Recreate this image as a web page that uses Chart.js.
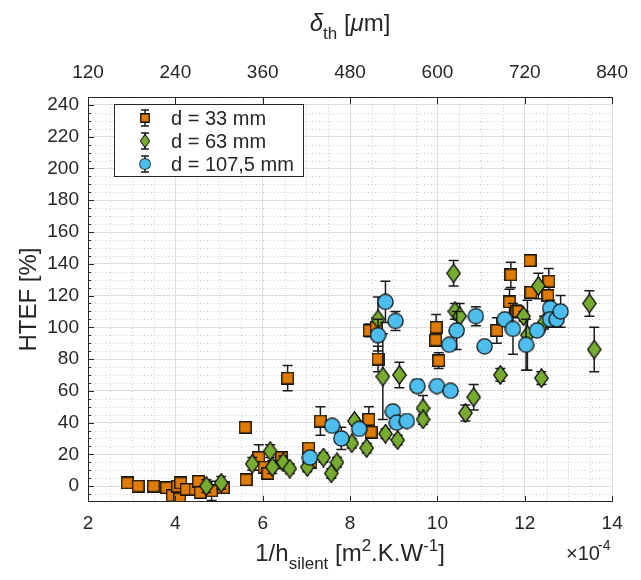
<!DOCTYPE html>
<html>
<head>
<meta charset="utf-8">
<script src="https://cdn.jsdelivr.net/npm/chart.js@4.4.1/dist/chart.umd.min.js"></script>
<style>
  html, body { margin: 0; background: #fff; }
</style>
</head>
<body>
<canvas id="myChart" width="641" height="580"></canvas>
<script>
// d = 33 mm
const x33 = [2.9, 3.15, 3.5, 3.8, 3.93, 4.1, 4.05, 4.12, 4.25, 4.45, 4.53, 4.57, 4.83, 5.1,
  5.6, 5.62, 5.91, 6.03, 6.12, 6.43, 6.57, 7.05, 7.1, 7.32, 8.43, 8.48, 8.44, 8.6, 8.64,
  9.97, 9.96, 10.03, 11.36, 11.65, 11.68, 11.82, 12.12, 12.14, 12.53, 12.55, 12.58];
const y33 = [2, 0, 0, -1, -6, -8, 0, 2, -2, -2, 3, -4, -3, -1,
  37, 4, 18, 12, 8, 18, 68, 24, 15, 41, 42, 34, 98, 100, 80,
  100, 92, 79, 98, 116, 133, 110, 142, 122, 120, 129, 108];
const e33 = [1, 1, 1, 1, 2, 2, 1, 1, 1, 1, 1, 2, 6, 1,
  1, 1, 8, 2, 1, 2, 8, 3, 2, 9, 8, 2, 4, 6, 8,
  8, 3, 5, 8, 8, 8, 4, 2, 3, 3, 8, 2];

// d = 63 mm
const x63 = [4.71, 5.05, 5.76, 6.17, 6.22, 6.47, 6.62, 7.02, 7.39, 7.57, 7.7, 8.1, 8.04, 8.38,
  8.64, 8.75, 8.81, 9.09, 9.13, 9.67, 9.67, 10.37, 10.4, 10.51, 10.64, 10.83, 11.44,
  11.97, 12.06, 12.31, 12.38, 12.44, 13.48, 13.59];
const y63 = [0, 2, 14, 22, 12, 15, 11, 12, 18, 8, 15, 41, 27, 24,
  105, 69, 33, 29, 70, 49, 42, 134, 110, 107, 46, 56, 70,
  107, 95, 126, 68, 103, 115, 86];
const e63 = [4, 4, 4, 4, 4, 4, 3, 3, 3, 3, 3, 2, 3, 3,
  14, 27, 3, 3, 8, 8, 3, 8, 5, 8, 5, 8, 4,
  3, 22, 8, 4, 4, 8, 14];

// d = 107,5 mm
const x107 = [7.08, 7.59, 7.8, 8.21, 8.64, 8.81, 8.98, 9.04, 9.07, 9.3, 9.54, 9.99, 10.27,
  10.3, 10.44, 10.88, 11.08, 11.54, 11.73, 12.03, 12.28, 12.58, 12.58, 12.73, 12.82];
const y107 = [18, 38, 30, 36, 95, 116, 47, 104, 40, 41, 63, 63, 89,
  60, 98, 107, 88, 105, 99, 89, 98, 112, 105, 105, 110];
const e107 = [3, 3, 7, 3, 10, 13, 3, 6, 3, 3, 4, 3, 2,
  3, 12, 6, 2, 3, 16, 16, 3, 5, 5, 5, 10];

const seriesNames = ['d = 33 mm', 'd = 63 mm', 'd = 107,5 mm'];
const xTicks = [2, 4, 6, 8, 10, 12, 14];
const yTicks = [0, 20, 40, 60, 80, 100, 120, 140, 160, 180, 200, 220, 240];
const topTicks = [120, 240, 360, 480, 600, 720, 840];

const FONT = '"Liberation Sans", Arial, Helvetica, sans-serif';
const INK = '#262626';

function markerCanvas(kind, fill) {
  const c = document.createElement('canvas');
  let w = 13, h = 13;
  if (kind === 'd') { w = 15; h = 20; }
  if (kind === 'o') { w = 17; h = 17; }
  c.width = w; c.height = h;
  const g = c.getContext('2d');
  g.fillStyle = fill;
  g.strokeStyle = '#111';
  g.lineWidth = 1.3;
  g.beginPath();
  if (kind === 's') g.rect(0.75, 0.75, w - 1.5, h - 1.5);
  if (kind === 'd') {
    g.moveTo(w / 2, 0.75); g.lineTo(w - 0.75, h / 2);
    g.lineTo(w / 2, h - 0.75); g.lineTo(0.75, h / 2); g.closePath();
  }
  if (kind === 'o') g.arc(w / 2, h / 2, w / 2 - 0.9, 0, Math.PI * 2);
  g.fill(); g.stroke();
  return c;
}

const colors = ['#E07B06', '#77AC30', '#4DBEEE'];
const markers = [markerCanvas('s', colors[0]), markerCanvas('d', colors[1]), markerCanvas('o', colors[2])];

function pts(xs, ys) {
  return xs.map((x, i) => ({ x: x, y: ys[i] }));
}

// rich text: segments [text, 'n'|'sub'|'sup', italic]
function richText(ctx, segs, cx, baseY, size) {
  const small = Math.round(size * 0.7);
  const fontOf = (s) => (s[2] ? 'italic ' : '') + (s[1] === 'n' ? size : small) + 'px ' + FONT;
  let total = 0;
  segs.forEach(s => { ctx.font = fontOf(s); total += ctx.measureText(s[0]).width; });
  let x = cx - total / 2;
  ctx.textAlign = 'left';
  ctx.textBaseline = 'alphabetic';
  segs.forEach(s => {
    ctx.font = fontOf(s);
    let dy = 0;
    if (s[1] === 'sub') dy = size * 0.32;
    if (s[1] === 'sup') dy = -size * 0.42;
    ctx.fillText(s[0], x, baseY + dy);
    x += ctx.measureText(s[0]).width;
  });
}

const decor = {
  id: 'decor',
  beforeDatasetsDraw(chart) {
    const { ctx, chartArea: a, scales } = chart;
    ctx.save();
    ctx.strokeStyle = '#c9c9c9';
    ctx.lineWidth = 1;
    ctx.setLineDash([1, 2.5]);
    for (let v = 2.5; v < 14; v += 0.5) {
      if (v % 2 === 0) continue;
      const px = Math.round(scales.x.getPixelForValue(v)) + 0.5;
      ctx.beginPath(); ctx.moveTo(px, a.top); ctx.lineTo(px, a.bottom); ctx.stroke();
    }
    for (let v = -5; v < 245; v += 5) {
      if (v % 20 === 0) continue;
      const py = Math.round(scales.y.getPixelForValue(v)) + 0.5;
      ctx.beginPath(); ctx.moveTo(a.left, py); ctx.lineTo(a.right, py); ctx.stroke();
    }
    ctx.restore();
  },
  beforeDatasetDraw(chart, args) {
    const ds = chart.data.datasets[args.index];
    const { ctx, chartArea: a } = chart;
    const ys = chart.scales.y;
    ctx.save();
    ctx.beginPath();
    ctx.rect(a.left, a.top, a.right - a.left, a.bottom - a.top);
    ctx.clip();
    ctx.strokeStyle = '#1a1a1a';
    ctx.lineWidth = 1.5;
    args.meta.data.forEach((p, i) => {
      const v = ds.data[i].y, e = ds.errs[i];
      const t = ys.getPixelForValue(v + e), b = ys.getPixelForValue(v - e);
      ctx.beginPath();
      ctx.moveTo(p.x, t); ctx.lineTo(p.x, b);
      ctx.moveTo(p.x - 5, t); ctx.lineTo(p.x + 5, t);
      ctx.moveTo(p.x - 5, b); ctx.lineTo(p.x + 5, b);
      ctx.stroke();
    });
    ctx.restore();
  },
  afterDraw(chart) {
    const { ctx, chartArea: a, scales } = chart;
    ctx.save();
    ctx.strokeStyle = INK;
    ctx.lineWidth = 1;
    ctx.beginPath();
    ctx.moveTo(a.left + 0.5, a.top); ctx.lineTo(a.left + 0.5, a.bottom);
    ctx.moveTo(a.left, a.bottom - 0.5); ctx.lineTo(a.right, a.bottom - 0.5);
    ctx.moveTo(a.left, a.top + 0.5); ctx.lineTo(a.right, a.top + 0.5);
    // left ticks
    yTicks.forEach(v => {
      const py = Math.round(scales.y.getPixelForValue(v)) + 0.5;
      ctx.moveTo(a.left, py); ctx.lineTo(a.left + 6, py);
    });
    for (let v = -5; v < 245; v += 5) {
      if (v % 20 === 0) continue;
      const py = Math.round(scales.y.getPixelForValue(v)) + 0.5;
      ctx.moveTo(a.left, py); ctx.lineTo(a.left + 3, py);
    }
    xTicks.forEach(v => {
      const px = Math.round(scales.x.getPixelForValue(v)) + 0.5;
      ctx.moveTo(px, a.bottom); ctx.lineTo(px, a.bottom - 6);
    });
    topTicks.forEach(v => {
      const px = Math.round(scales.xTop.getPixelForValue(v)) + 0.5;
      ctx.moveTo(px, a.top); ctx.lineTo(px, a.top + 7);
    });
    ctx.stroke();

    // axis titles
    ctx.fillStyle = INK;
    const cx = (a.left + a.right) / 2;
    richText(ctx, [['1/h', 'n'], ['silent', 'sub'], [' [m', 'n'], ['2', 'sup'], ['.K.W', 'n'], ['-1', 'sup'], [']', 'n']], cx, 561, 24);
    ctx.save();
    ctx.translate(28, (a.top + a.bottom) / 2);
    ctx.rotate(-Math.PI / 2);
    richText(ctx, [['HTEF [%]', 'n']], 0, 8, 24);
    ctx.restore();
    richText(ctx, [['\u03B4', 'n', true], ['th', 'sub'], [' [', 'n'], ['\u03BC', 'n', true], ['m]', 'n']], cx, 31, 24);
    ctx.font = '20px ' + FONT;
    ctx.textAlign = 'left';
    ctx.fillText('\u00D710', 566, 560);
    ctx.font = '14px ' + FONT;
    ctx.fillText('-4', 598, 550);

    // legend
    const lx = 114, ly = 104, lw = 189, lh = 72;
    ctx.fillStyle = '#fff';
    ctx.fillRect(lx, ly, lw, lh);
    ctx.strokeStyle = INK;
    ctx.strokeRect(lx + 0.5, ly + 0.5, lw, lh);
    ctx.font = '20px ' + FONT;
    ctx.textBaseline = 'middle';
    seriesNames.forEach((name, i) => {
      const yy = ly + 14 + i * 23;
      const mx = 145;
      ctx.strokeStyle = '#1a1a1a';
      ctx.lineWidth = 1.5;
      ctx.beginPath();
      ctx.moveTo(mx, yy - 8); ctx.lineTo(mx, yy + 8);
      ctx.moveTo(mx - 4, yy - 8); ctx.lineTo(mx + 4, yy - 8);
      ctx.moveTo(mx - 4, yy + 8); ctx.lineTo(mx + 4, yy + 8);
      ctx.stroke();
      const m = markers[i];
      const s = i === 0 ? 0.7 : 0.72;
      ctx.drawImage(m, mx - m.width * s / 2, yy - m.height * s / 2, m.width * s, m.height * s);
      ctx.fillStyle = INK;
      ctx.fillText(name, 171, yy + 1);
    });
    ctx.restore();
  }
};

const tickFont = { family: FONT, size: 19 };

new Chart(document.getElementById('myChart').getContext('2d'), {
  type: 'scatter',
  data: {
    datasets: [
      { label: seriesNames[0], data: pts(x33, y33), errs: e33, pointStyle: markers[0], order: 3 },
      { label: seriesNames[1], data: pts(x63, y63), errs: e63, pointStyle: markers[1], order: 2 },
      { label: seriesNames[2], data: pts(x107, y107), errs: e107, pointStyle: markers[2], order: 1 }
    ]
  },
  options: {
    responsive: false,
    animation: false,
    layout: { padding: { left: 0, right: 18, top: 0, bottom: 0 } },
    plugins: { legend: { display: false }, tooltip: { enabled: false } },
    scales: {
      x: {
        type: 'linear', position: 'bottom', min: 2, max: 14,
        afterBuildTicks: s => { s.ticks = xTicks.map(v => ({ value: v })); },
        afterFit: s => { s.height = 78; },
        ticks: { font: tickFont, color: INK, padding: 10, maxRotation: 0 },
        grid: { color: '#dedede', drawTicks: false },
        border: { display: false }
      },
      xTop: {
        type: 'linear', position: 'top', min: 120, max: 840,
        afterBuildTicks: s => { s.ticks = topTicks.map(v => ({ value: v })); },
        afterFit: s => { s.height = 97; },
        ticks: { font: tickFont, color: INK, padding: 13, maxRotation: 0 },
        grid: { display: false, drawTicks: false },
        border: { display: false }
      },
      y: {
        type: 'linear', min: -10, max: 245,
        afterBuildTicks: s => { s.ticks = yTicks.map(v => ({ value: v })); },
        afterFit: s => { s.width = 88; },
        ticks: { font: tickFont, color: INK, padding: 9 },
        grid: { color: '#dedede', drawTicks: false },
        border: { display: false }
      }
    }
  },
  plugins: [decor]
});
</script>
</body>
</html>
